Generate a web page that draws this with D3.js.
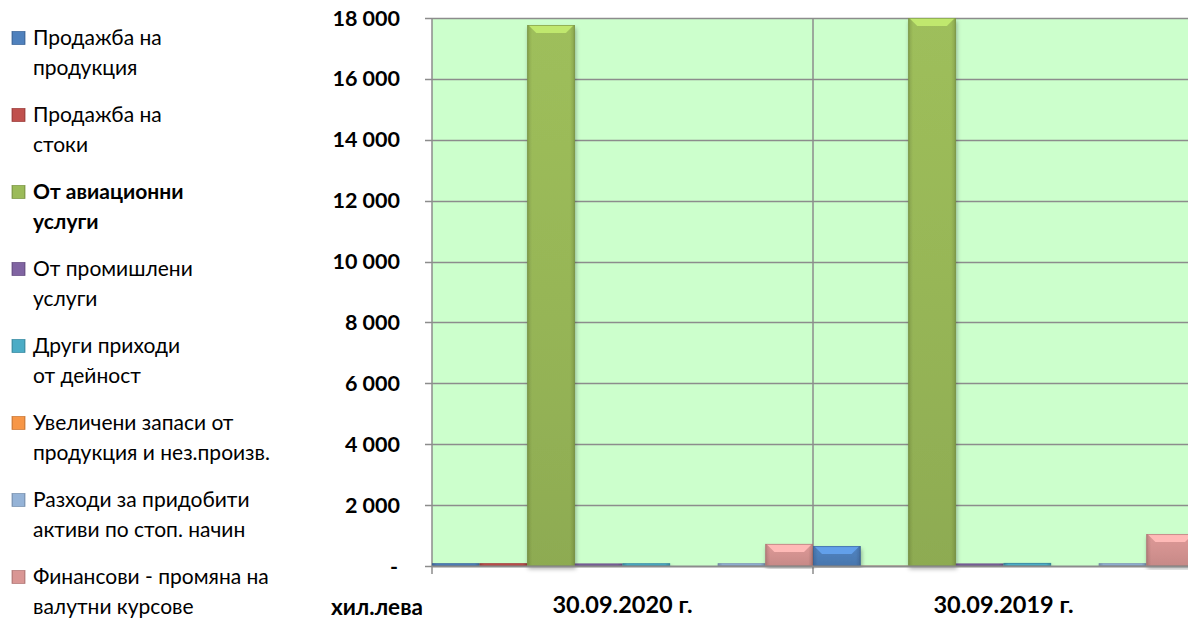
<!DOCTYPE html>
<html>
<head>
<meta charset="utf-8">
<script src="https://cdn.jsdelivr.net/npm/d3@7"></script>
<style>
  body { margin: 0; background: #fff; }
  svg { display: block; font-family: Lato, "Open Sans", sans-serif; }
</style>
</head>
<body>
<div id="chart"></div>
<script>
// категории и серии
const categories = ["30.09.2020 г.", "30.09.2019 г."];
const seriesLabels = [
  ["Продажба на", "продукция"],
  ["Продажба на", "стоки"],
  ["От авиационни", "услуги"],
  ["От промишлени", "услуги"],
  ["Други приходи", "от дейност"],
  ["Увеличени запаси от", "продукция и нез.произв."],
  ["Разходи за придобити", "активи по стоп. начин"],
  ["Финансови - промяна  на", "валутни курсове"]
];
const seriesColors = ["#4f81bd", "#c0504d", "#9bbb59", "#8064a2", "#4bacc6", "#f79646", "#95b3d7", "#d99694"];
const values2020 = [90, 90, 17770, 80, 90, 0, 90, 725];
const values2019 = [655, 10, 18000, 80, 100, 0, 90, 1050];
const yTicks = [0, 2000, 4000, 6000, 8000, 10000, 12000, 14000, 16000, 18000];

const width = 1188, height = 619;
const plot = { left: 432, right: 1194, top: 18, bottom: 566 };

const svg = d3.select("#chart").append("svg")
  .attr("width", width)
  .attr("height", height);

const defs = svg.append("defs");

// сянка под колоните
const shadow = defs.append("filter").attr("id", "shadow")
  .attr("x", "-20%").attr("y", "-5%").attr("width", "140%").attr("height", "115%");
shadow.append("feDropShadow")
  .attr("dx", 1).attr("dy", 3).attr("stdDeviation", 2)
  .attr("flood-color", "#000").attr("flood-opacity", 0.3);

// градиенти за ефекта на релефа
seriesColors.forEach((c, i) => {
  const g = defs.append("linearGradient").attr("id", "grad" + i)
    .attr("x1", "0%").attr("x2", "100%").attr("y1", "0%").attr("y2", "0%");
  g.append("stop").attr("offset", "0%").attr("stop-color", d3.color(c).darker(0.7));
  g.append("stop").attr("offset", "10%").attr("stop-color", c);
  g.append("stop").attr("offset", "90%").attr("stop-color", c);
  g.append("stop").attr("offset", "100%").attr("stop-color", d3.color(c).darker(0.7));

  const v = defs.append("linearGradient").attr("id", "vgrad" + i)
    .attr("x1", "0%").attr("x2", "0%").attr("y1", "0%").attr("y2", "100%");
  v.append("stop").attr("offset", "0%").attr("stop-color", d3.color(c).brighter(0.15)).attr("stop-opacity", 0.35);
  v.append("stop").attr("offset", "100%").attr("stop-color", d3.color(c).darker(0.6)).attr("stop-opacity", 0.45);
});

const x0 = d3.scaleBand().domain(categories).range([plot.left, plot.right]).padding(0);
const x1 = d3.scaleBand().domain(d3.range(seriesLabels.length)).range([0, x0.bandwidth()]).padding(0);
const y = d3.scaleLinear().domain([0, 18000]).range([plot.bottom, plot.top]);

// фон на графиката
svg.append("rect")
  .attr("x", plot.left).attr("y", plot.top)
  .attr("width", plot.right - plot.left).attr("height", plot.bottom - plot.top)
  .attr("fill", "#ccffcc");

// хоризонтални линии
svg.append("g").selectAll("line")
  .data(yTicks.filter(d => d > 0))
  .enter().append("line")
  .attr("x1", plot.left - 7).attr("x2", plot.right)
  .attr("y1", d => Math.round(y(d)) + 0.5).attr("y2", d => Math.round(y(d)) + 0.5)
  .attr("stroke", "#8c8c8c").attr("stroke-width", 1.5);

// вертикални линии между категориите
svg.append("g").selectAll("line")
  .data(categories)
  .enter().append("line")
  .attr("x1", d => x0(d)).attr("x2", d => x0(d))
  .attr("y1", plot.top).attr("y2", plot.bottom + 8)
  .attr("stroke", "#8c8c8c").attr("stroke-width", 1.5);

// ос Y етикети
const fmt = d => d === 0 ? "-" : d3.format(",")(d).replace(/,/g, " ");
svg.append("g").selectAll("text")
  .data(yTicks)
  .enter().append("text")
  .attr("x", d => d === 0 ? 398 : 400)
  .attr("y", d => y(d))
  .attr("dy", "0.35em")
  .attr("text-anchor", "end")
  .style("font-size", "21.5px").style("font-weight", "bold")
  .attr("fill", "#000")
  .text(fmt);

// колони
const data = categories.map((c, ci) => ({ cat: c, vals: ci === 0 ? values2020 : values2019 }));

const groups = svg.append("g").selectAll("g")
  .data(data)
  .enter().append("g")
  .attr("transform", d => `translate(${x0(d.cat)},0)`);

const bars = groups.selectAll("g.bar")
  .data(d => d.vals.map((v, i) => ({ v, i })))
  .enter().append("g")
  .attr("class", "bar")
  .attr("filter", "url(#shadow)");

bars.filter(d => d.v > 0).each(function(d) {
  const g = d3.select(this);
  const bx = x1(d.i), bw = x1.bandwidth();
  const top = y(d.v), h = plot.bottom - top;
  const c = seriesColors[d.i];
  g.append("rect")
    .attr("x", bx).attr("y", top).attr("width", bw).attr("height", h)
    .attr("fill", `url(#grad${d.i})`);
  if (h > 12) {
    g.append("rect")
      .attr("x", bx).attr("y", top).attr("width", bw).attr("height", h)
      .attr("fill", `url(#vgrad${d.i})`);
    const b = Math.min(8, h / 2);
    g.append("polygon")
      .attr("points", [[bx + 1, top], [bx + bw - 1, top], [bx + bw - 1 - b, top + b], [bx + 1 + b, top + b]].join(" "))
      .attr("fill", d3.color(c).brighter(0.6));
  }
  g.append("rect")
    .attr("x", bx + 0.5).attr("y", top + 0.5).attr("width", bw - 1).attr("height", Math.max(0, h - 1))
    .attr("fill", "none").attr("stroke", d3.color(c).darker(0.8)).attr("stroke-opacity", 0.6);
});

// ос X
svg.append("line")
  .attr("x1", plot.left).attr("x2", plot.right)
  .attr("y1", plot.bottom + 0.5).attr("y2", plot.bottom + 0.5)
  .attr("stroke", "#8c8c8c").attr("stroke-width", 2);
svg.append("line")
  .attr("x1", plot.left - 7).attr("x2", plot.left)
  .attr("y1", plot.bottom + 0.5).attr("y2", plot.bottom + 0.5)
  .attr("stroke", "#8c8c8c").attr("stroke-width", 1.5);

svg.append("g").selectAll("text")
  .data(categories)
  .enter().append("text")
  .attr("x", d => x0(d) + x0.bandwidth() / 2)
  .attr("y", 605)
  .attr("dy", "0.35em")
  .attr("text-anchor", "middle")
  .style("font-size", "23.5px").style("font-weight", "bold")
  .text(d => d);

svg.append("text")
  .attr("x", 331).attr("y", 607).attr("dy", "0.35em")
  .style("font-size", "22.5px").style("font-weight", "bold")
  .text("хил.лева");

// легенда
const legend = svg.append("g").selectAll("g")
  .data(seriesLabels)
  .enter().append("g")
  .attr("transform", (d, i) => `translate(0,${38 + 77 * i})`);

legend.append("rect")
  .attr("x", 12).attr("y", -6.5).attr("width", 13).attr("height", 13)
  .attr("fill", (d, i) => `url(#grad${i})`)
  .attr("stroke", (d, i) => d3.color(seriesColors[i]).darker(0.5))
  .attr("stroke-width", 0.8);

legend.append("text")
  .attr("x", 33)
  .style("font-size", "21px")
  .style("font-weight", (d, i) => i === 2 ? "bold" : "normal")
  .selectAll("tspan")
  .data(d => d)
  .enter().append("tspan")
  .attr("x", 33)
  .attr("y", (d, j) => j * 30)
  .attr("dy", "0.35em")
  .text(d => d);
</script>
</body>
</html>
